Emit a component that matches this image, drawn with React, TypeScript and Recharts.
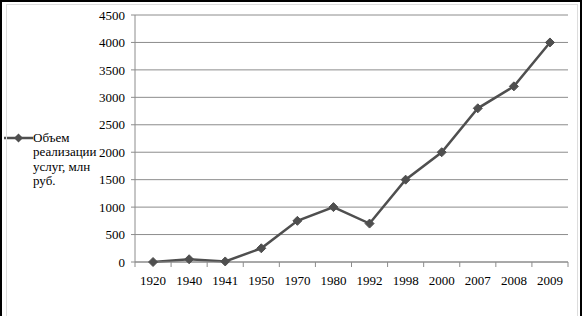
import { LineChart, Line, XAxis, YAxis, CartesianGrid } from "recharts";

const YEARS = ["1920", "1940", "1941", "1950", "1970", "1980", "1992", "1998", "2000", "2007", "2008", "2009"];
const VOLUME = [0, 50, 10, 250, 750, 1000, 700, 1500, 2000, 2800, 3200, 4000];
const Y_TICKS = [0, 500, 1000, 1500, 2000, 2500, 3000, 3500, 4000, 4500];
const LEGEND_LINES = ["Объем", "реализации", "услуг, млн", "руб."];

const W = 584;
const H = 316;
const MARGIN = { top: 15, right: 16, bottom: 24, left: 85 };
const Y_AXIS_W = 50;
const PLOT_W = W - MARGIN.left - MARGIN.right - Y_AXIS_W;
const STEP = PLOT_W / YEARS.length;

const FONT = "Times New Roman, Liberation Serif, serif";
const LINE_COLOR = "#4f4f4f";
const GRID_COLOR = "#8c8c8c";

const data = YEARS.map((year, i) => ({ year, value: VOLUME[i] }));

function Diamond({ cx, cy }: any) {
  if (cx == null || cy == null) return null;
  const r = 4.5;
  return (
    <polygon
      points={`${cx},${cy - r} ${cx + r},${cy} ${cx},${cy + r} ${cx - r},${cy}`}
      fill={LINE_COLOR}
      stroke={LINE_COLOR}
    />
  );
}

// ticks sit on category boundaries, labels in the middle
function YearTick({ x, y, payload, index, visibleTicksCount }: any) {
  const left = x - STEP / 2;
  return (
    <g>
      <line x1={left} y1={y} x2={left} y2={y + 5} stroke={GRID_COLOR} />
      {index === visibleTicksCount - 1 && (
        <line x1={x + STEP / 2} y1={y} x2={x + STEP / 2} y2={y + 5} stroke={GRID_COLOR} />
      )}
      <text x={x} y={y + 23} textAnchor="middle" fontSize={13} fontFamily={FONT} fill="#000">
        {payload.value}
      </text>
    </g>
  );
}

function SeriesLegend() {
  return (
    <div
      style={{
        position: "absolute",
        left: 4,
        top: 131,
        display: "flex",
        alignItems: "flex-start",
        fontFamily: FONT,
        fontSize: 13,
        color: "#000",
      }}
    >
      <svg width={29} height={14} style={{ flex: "none" }}>
        <line x1={0} y1={7} x2={29} y2={7} stroke={LINE_COLOR} strokeWidth={2.5} />
        <polygon points="14.5,2.5 19,7 14.5,11.5 10,7" fill={LINE_COLOR} />
      </svg>
      <div style={{ lineHeight: "14.3px" }}>
        {LEGEND_LINES.map((t) => (
          <div key={t}>{t}</div>
        ))}
      </div>
    </div>
  );
}

export default function App() {
  return (
    <div style={{ position: "absolute", left: 0, top: 0, width: W, height: H, background: "#fff" }}>
      <LineChart width={W} height={H} data={data} margin={MARGIN}>
        <CartesianGrid vertical={false} stroke={GRID_COLOR} />
        <XAxis
          dataKey="year"
          height={30}
          stroke={GRID_COLOR}
          tickSize={0}
          tickMargin={0}
          tick={<YearTick />}
          interval={0}
          padding={{ left: STEP / 2, right: STEP / 2 }}
        />
        <YAxis
          width={Y_AXIS_W}
          domain={[0, 4500]}
          ticks={Y_TICKS}
          stroke={GRID_COLOR}
          tickSize={4}
          tickMargin={6}
          tick={{ fontSize: 13, fontFamily: FONT, fill: "#000" }}
        />
        <Line
          dataKey="value"
          stroke={LINE_COLOR}
          strokeWidth={2.5}
          dot={<Diamond />}
          activeDot={false}
          isAnimationActive={false}
        />
      </LineChart>
      <SeriesLegend />
      <div
        style={{
          position: "absolute",
          left: 6,
          top: 4,
          width: 572,
          height: H,
          borderLeft: "1px solid #ddd",
          borderTop: "1px solid #ddd",
          borderRight: "1px solid #ddd",
          pointerEvents: "none",
          boxSizing: "border-box",
        }}
      />
      <div
        style={{
          position: "absolute",
          left: 0,
          top: 0,
          width: 582,
          height: H,
          borderLeft: "2px solid #000",
          borderTop: "2px solid #000",
          borderRight: "2px solid #000",
          pointerEvents: "none",
          boxSizing: "border-box",
        }}
      />
    </div>
  );
}
